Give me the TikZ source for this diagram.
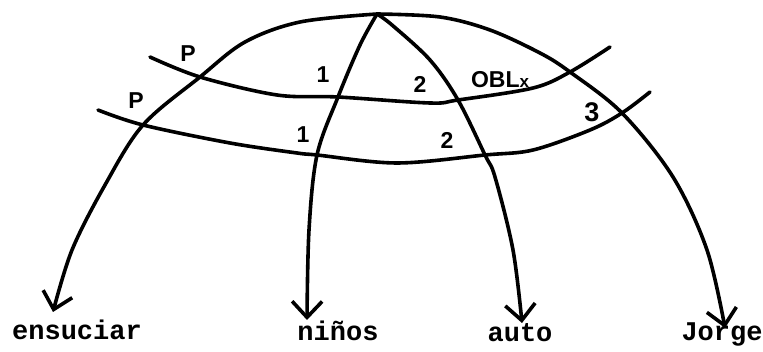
\documentclass[tikz,border=0pt]{standalone}
\usepackage{fontspec}
\setmainfont{Liberation Sans}
\setsansfont{Liberation Sans}
\setmonofont{Liberation Mono}
\usetikzlibrary{arrows.meta}

\begin{document}
\begin{tikzpicture}[x=1pt,y=-1pt, line width=3.6pt, line cap=round, line join=round, every node/.style={inner sep=0pt}, word/.style={font=\fontsize{27}{27}\selectfont\ttfamily\bfseries,anchor=base}, lbl/.style={font=\fontsize{23}{23}\selectfont\sffamily\bfseries}, arr/.style={-{Straight Barb[length=16pt,width=30pt]}}, link/.style={smooth,tension=0.55}]
\useasboundingbox (0,0) rectangle (763,352);
\coordinate (apex) at (377,14);
\coordinate (uL) at (150,57); \coordinate (uE) at (200,77); \coordinate (uN) at (338,97); \coordinate (uA) at (458,100); \coordinate (uJ) at (570,72); \coordinate (uR) at (610,47);
\coordinate (lL) at (98,110); \coordinate (lE) at (143,125); \coordinate (lN) at (317,155); \coordinate (lA) at (485,155); \coordinate (lJ) at (622,113); \coordinate (lR) at (650,92);
\coordinate (tipE) at (53,312); \coordinate (tipN) at (307,320); \coordinate (tipA) at (522,323); \coordinate (tipJ) at (725,328);
\node[word] (ensuciar) at (77,340) {ensuciar};
\node[word] (ninos) at (338,341) {niños};
\node[word] (auto) at (520,342) {auto};
\node[word] (jorge) at (722,341) {Jorge};
\draw plot[link] coordinates {(uL) (uE) (277,95) (uN) (430,103) (uA) (533,88) (uJ) (uR)};
\draw plot[link] coordinates {(lL) (lE) (230,143) (297,153) (lN) (397,163) (lA) (533,150) (590,130) (lJ) (lR)};
\draw[arr] plot[link] coordinates {(apex) (300,22) (245,42) (uE) (lE) (105,185) (72,250) (tipE)};
\draw[arr] plot[link] coordinates {(apex) (360,45) (uN) (lN) (309,230) (tipN)};
\draw[arr] plot[link] coordinates {(apex) (392,25) (430,60) (uA) (lA) (495,177) (513,250) (tipA)};
\draw[arr] plot[link] coordinates {(apex) (440,17) (490,30) (540,53) (uJ) (lJ) (673,177) (707,250) (tipJ)};
\node[lbl] (pU) at (188,54) {P};
\node[lbl] (pL) at (136,101) {P};
\node[lbl] (oneU) at (323,75) {1};
\node[lbl] (oneL) at (303,135) {1};
\node[lbl] (twoU) at (420,84) {2};
\node[lbl] (obl) at (500,80) {OBL\fontsize{17}{17}\selectfont x};
\node[lbl] (twoL) at (447,140) {2};
\node[lbl,font=\fontsize{27}{27}\selectfont\sffamily\bfseries] (three) at (592,112) {3};
\end{tikzpicture}
\end{document}
